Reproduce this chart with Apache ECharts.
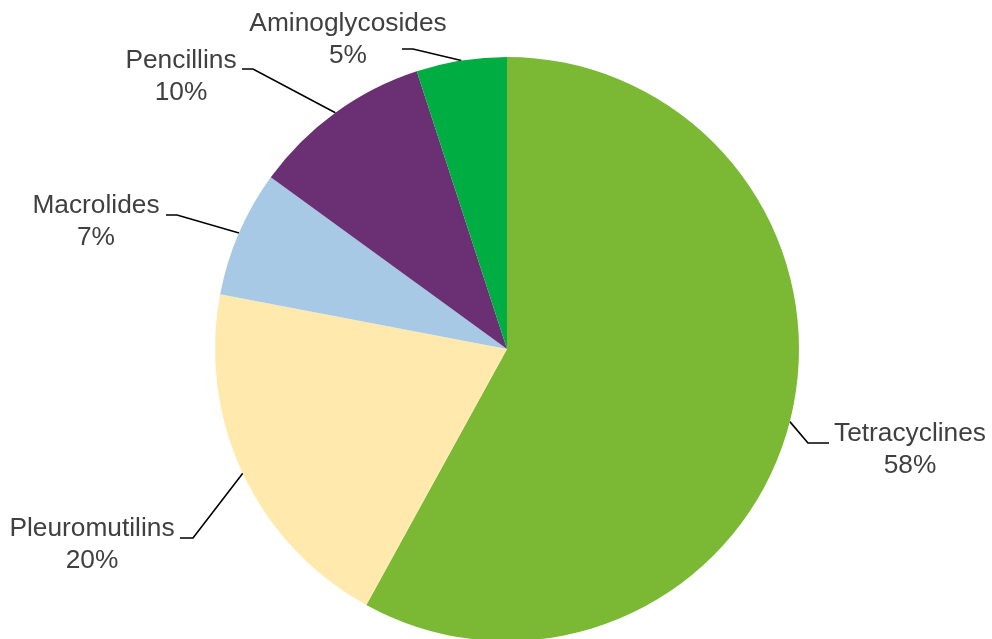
<!DOCTYPE html>
<html>
<head>
<meta charset="utf-8">
<script src="https://cdn.jsdelivr.net/npm/echarts@6/dist/echarts.min.js"></script>
<style>
html,body{margin:0;padding:0;background:#fff;}
#chart{width:992px;height:639px;}
</style>
</head>
<body>
<div id="chart"></div>
<script>
// Data
var categories = ['Tetracyclines', 'Pleuromutilins', 'Macrolides', 'Pencillins', 'Aminoglycosides'];
var shares = [58, 20, 7, 10, 5];
var colors = ['#7BB934', '#FFE9AD', '#A7C9E6', '#6B2F73', '#00AD43'];

// Label placement (layout only): text-block centre, leader elbow x, leader end x, leader y
var labelPlace = [
  {cx: 910, cy: 450, endX: 829, elbowX: 808, ly: 443},
  {cx: 92,  cy: 545, endX: 180, elbowX: 193, ly: 538},
  {cx: 96,  cy: 222, endX: 166, elbowX: 177, ly: 215},
  {cx: 181, cy: 77,  endX: 242, elbowX: 253, ly: 69},
  {cx: 348, cy: 40,  endX: 402, elbowX: 413, ly: 49}
];

var chart = echarts.init(document.getElementById('chart'), null, {renderer: 'canvas'});
var data = categories.map(function (c, i) {
  return {name: c, value: shares[i], itemStyle: {color: colors[i]}};
});

chart.setOption({
  animation: false,
  backgroundColor: '#ffffff',
  series: [{
    type: 'pie',
    center: [507, 349],
    radius: 292,
    startAngle: 90,
    clockwise: true,
    avoidLabelOverlap: false,
    data: data,
    itemStyle: {borderWidth: 0},
    emphasis: {disabled: true},
    label: {
      show: true,
      formatter: '{b}\n{c}%',
      fontFamily: '"Liberation Sans", Arial, sans-serif',
      fontSize: 26.3,
      lineHeight: 32,
      color: '#404040',
      align: 'center'
    },
    labelLine: {
      show: true,
      length: 20,
      length2: 15,
      lineStyle: {color: '#000000', width: 1.6}
    },
    labelLayout: function (params) {
      var p = labelPlace[params.dataIndex];
      var start = params.labelLinePoints ? params.labelLinePoints[0] : null;
      var res = {
        x: p.cx,
        y: p.cy,
        align: 'center',
        verticalAlign: 'middle',
        hideOverlap: false,
        moveOverlap: null
      };
      if (start) {
        res.labelLinePoints = [start, [p.elbowX, p.ly], [p.endX, p.ly]];
      }
      return res;
    }
  }]
});
</script>
</body>
</html>
